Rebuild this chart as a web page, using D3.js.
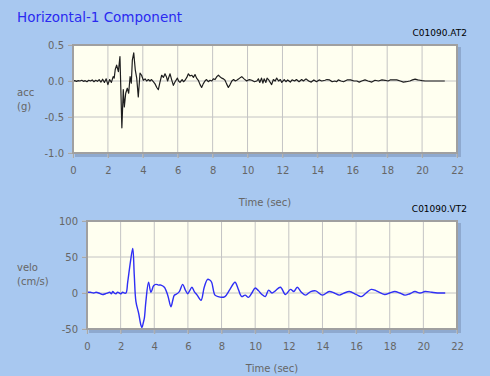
<!DOCTYPE html>
<html>
<head>
<meta charset="utf-8">
<script src="https://cdn.jsdelivr.net/npm/d3@7"></script>
<style>
  body { margin: 0; background: #a8c8f0; }
  svg { display: block; font-family: "DejaVu Sans", sans-serif; }
</style>
</head>
<body>
<svg id="chart" width="490" height="376"></svg>
<script>
// acceleration record (g) vs time (sec)
const accT = [0,0.1,0.2,0.3,0.4,0.5,0.6,0.7,0.8,0.9,1.0,1.1,1.2,1.3,1.4,1.5,1.6,1.7,1.8,1.9,2.0,2.1,2.2,2.3,2.36,2.42,2.5,2.6,2.69,2.8,2.88,2.94,3.02,3.11,3.19,3.27,3.34,3.4,3.48,3.57,3.65,3.74,3.84,3.93,4.03,4.13,4.22,4.32,4.41,4.5,4.6,4.7,4.8,4.89,4.98,5.08,5.18,5.27,5.35,5.42,5.5,5.56,5.65,5.75,5.85,5.98,6.05,6.13,6.25,6.33,6.42,6.52,6.61,6.7,6.8,6.9,6.99,7.08,7.18,7.28,7.37,7.46,7.56,7.65,7.75,7.85,7.95,8.04,8.14,8.24,8.33,8.42,8.52,8.62,8.71,8.8,8.9,9.0,9.1,9.2,9.3,9.38,9.5,9.6,9.67,9.8,9.95,10.1,10.24,10.4,10.53,10.62,10.7,10.8,10.88,10.95,11.05,11.12,11.2,11.3,11.38,11.48,11.58,11.67,11.78,11.88,11.96,12.1,12.2,12.3,12.45,12.55,12.7,12.8,12.95,13.1,13.2,13.35,13.5,13.65,13.8,13.95,14.1,14.25,14.44,14.55,14.7,14.85,15.0,15.1,15.2,15.35,15.5,15.7,15.9,16.1,16.26,16.4,16.54,16.73,16.9,17.12,17.3,17.5,17.7,17.88,18.05,18.17,18.35,18.55,18.75,18.93,19.1,19.3,19.45,19.6,19.75,19.88,20.0,20.17,20.5,20.8,21.0,21.3];
const accV = [0,0.005,-0.005,0.005,0,0.01,-0.005,0.005,-0.01,0.01,0,0.015,-0.01,0.01,-0.005,0.02,-0.015,0.025,-0.02,0.03,-0.05,0.02,-0.02,0.06,0.04,0.16,0.22,0.13,0.34,-0.65,-0.12,-0.36,-0.17,-0.1,-0.17,0.06,-0.03,0.29,0.39,0.15,0.04,-0.22,0.11,0.08,0.01,0.03,0,0.02,0,0.02,-0.01,-0.04,-0.09,-0.12,-0.02,0.08,0.05,0.1,0.06,0,0.06,0.1,0.02,-0.06,-0.01,0.04,0,-0.02,0.02,-0.01,0.01,0.05,0.1,0.07,0.08,0.05,0.09,0.04,0.01,-0.05,-0.09,-0.04,0,0.02,-0.01,0.01,0,0.03,0.02,0.06,0.08,0.06,0.04,0.03,0.01,-0.04,-0.09,-0.05,0,0.02,0,0.01,0.03,0.05,0.06,0.03,0,0.02,0.01,-0.01,0,0.03,-0.02,0.04,-0.03,0.03,-0.02,0.04,0.02,-0.02,-0.05,0.02,0,0.04,0,0.02,-0.02,0.02,-0.01,0.015,-0.015,0.015,0,0.02,-0.01,0.02,0,0.03,0,-0.015,0.015,-0.01,0.015,0,0.01,0.02,0.015,-0.01,0,-0.01,0.015,0,-0.01,0.015,0.015,0,0,-0.015,0,0.015,0,-0.015,0.01,0,0.015,0.01,0,0.015,0.015,0.015,0,-0.015,-0.01,0,0.015,0.025,0.015,0.01,0.005,0,0,0,0,0];

// velocity record (cm/s) vs time (sec)
const velT = [0,0.2,0.4,0.54,0.7,0.93,1.1,1.23,1.35,1.45,1.53,1.62,1.72,1.82,1.92,2.02,2.12,2.22,2.32,2.42,2.58,2.72,2.81,2.91,3.07,3.21,3.27,3.34,3.41,3.5,3.66,3.8,3.96,4.1,4.25,4.4,4.6,4.8,4.99,5.1,5.19,5.29,5.49,5.69,5.85,5.99,6.1,6.24,6.38,6.55,6.78,6.97,7.17,7.3,7.41,7.61,7.8,8.0,8.2,8.5,8.8,9.0,9.2,9.4,9.6,9.8,10.0,10.2,10.4,10.6,10.8,11.0,11.2,11.5,11.8,12.1,12.3,12.5,12.75,13.0,13.3,13.6,14.0,14.4,14.7,15.0,15.3,15.6,16.0,16.3,16.6,16.9,17.2,17.7,18.0,18.3,18.6,18.9,19.2,19.5,19.8,20.1,20.5,21.0,21.3];
const velV = [1,1,0,1,0,-2,-1,0,1,-1,2,0,-1,1,0,-1,1,0,0,15,43,62,25,-12,-28,-45,-48,-42,-35,-12,15,1,10,12,11,11,8,-3,-19,-10,-3,-2,2,12,4,-1,3,8,2,-3,-10,8,19,18,15,-3,-5,-6,-5,5,15,5,-5,-3,-6,0,7,3,-2,-5,4,0,3,8,-2,5,2,8,1,-3,2,3,-3,2,0,-3,0,2,-2,-5,0,5,3,-2,0,2,0,-3,-1,2,0,2,1,0,0];

const timeTicks = [0,2,4,6,8,10,12,14,16,18,20,22];
const accTicks = [0.5, 0.0, -0.5, -1.0];
const velTicks = [100, 50, 0, -50];

const svg = d3.select("#chart");

svg.append("text")
  .attr("x", 17)
  .attr("y", 22)
  .style("font-size", "13.5px")
  .attr("fill", "#2a2af0")
  .text("Horizontal-1 Component");

function drawPanel(opt){
  const { left, right, top, bottom } = opt;

  const x = d3.scaleLinear().domain([0, 22]).range([left, right]);
  const y = d3.scaleLinear().domain(opt.domain).range([bottom, top]);

  const g = svg.append("g");

  // shadow + plot background
  g.append("rect")
    .attr("x", left + 2).attr("y", top + 2)
    .attr("width", right - left + 2).attr("height", bottom - top + 2)
    .attr("fill", "#8ea9cf");

  g.append("rect")
    .attr("x", left).attr("y", top)
    .attr("width", right - left).attr("height", bottom - top)
    .attr("fill", "#fffff0");

  // grid
  g.append("g")
    .selectAll("line")
    .data(timeTicks)
    .enter()
    .append("line")
    .attr("x1", d => x(d)).attr("x2", d => x(d))
    .attr("y1", top).attr("y2", bottom + 5)
    .attr("stroke", "#c4c4c4");

  g.append("g")
    .selectAll("line")
    .data(opt.ticks)
    .enter()
    .append("line")
    .attr("x1", left - 5).attr("x2", right)
    .attr("y1", d => y(d)).attr("y2", d => y(d))
    .attr("stroke", "#c4c4c4");

  const xAxis = g.append("g")
    .attr("transform", `translate(0,${bottom})`)
    .call(d3.axisBottom(x).tickValues(timeTicks).tickSize(5).tickPadding(9));
  xAxis.select(".domain").remove();
  xAxis.selectAll("line").attr("stroke", "#a8a8a8");
  xAxis.selectAll("text")
    .attr("fill", "#666")
    .style("font-size", "10px")
    .style("font-family", "DejaVu Sans, sans-serif");

  const yAxis = g.append("g")
    .attr("transform", `translate(${left},0)`)
    .call(d3.axisLeft(y).tickValues(opt.ticks).tickSize(5).tickPadding(4)
      .tickFormat(d => opt.fmt(d).replace("\u2212", "-")));
  yAxis.select(".domain").remove();
  yAxis.selectAll("line").attr("stroke", "#a8a8a8");
  yAxis.selectAll("text")
    .attr("fill", "#666")
    .style("font-size", "10px")
    .style("font-family", "DejaVu Sans, sans-serif");

  // trace
  const pts = opt.t.map((t, i) => [t, opt.v[i]]);
  g.append("path")
    .datum(pts)
    .attr("fill", "none")
    .attr("stroke", opt.color)
    .attr("stroke-width", opt.width)
    .attr("stroke-linejoin", "round")
    .attr("d", d3.line().x(d => x(d[0])).y(d => y(d[1])).curve(opt.curve));

  // frame
  g.append("rect")
    .attr("x", left).attr("y", top)
    .attr("width", right - left).attr("height", bottom - top)
    .attr("fill", "none")
    .attr("stroke", "#a0a0a0")
    .attr("stroke-width", 2);

  g.append("text")
    .attr("x", 467)
    .attr("y", top - 9)
    .attr("text-anchor", "end")
    .style("font-size", "9px")
    .attr("fill", "#000")
    .text(opt.name);

  g.append("text")
    .attr("x", (left + right) / 2)
    .attr("y", opt.titleY)
    .attr("text-anchor", "middle")
    .style("font-size", "10px")
    .attr("fill", "#666")
    .text("Time (sec)");

  opt.ylabel.forEach((s, i) => {
    g.append("text")
      .attr("x", 17)
      .attr("y", opt.labelY + i * 14)
      .style("font-size", "10px")
      .attr("fill", "#666")
      .text(s);
  });
}

drawPanel({
  left: 73, right: 457, top: 45, bottom: 153,
  domain: [-1.0, 0.5], ticks: accTicks, fmt: d3.format(".1f"),
  t: accT, v: accV, color: "#1e1e1e", width: 1.2, curve: d3.curveLinear,
  name: "C01090.AT2", ylabel: ["acc", "(g)"], labelY: 96, titleY: 206
});

drawPanel({
  left: 87, right: 457, top: 221, bottom: 329,
  domain: [-50, 100], ticks: velTicks, fmt: d3.format("d"),
  t: velT, v: velV, color: "#2f2ff5", width: 1.4, curve: d3.curveCatmullRom,
  name: "C01090.VT2", ylabel: ["velo", "(cm/s)"], labelY: 271, titleY: 372
});
</script>
</body>
</html>
